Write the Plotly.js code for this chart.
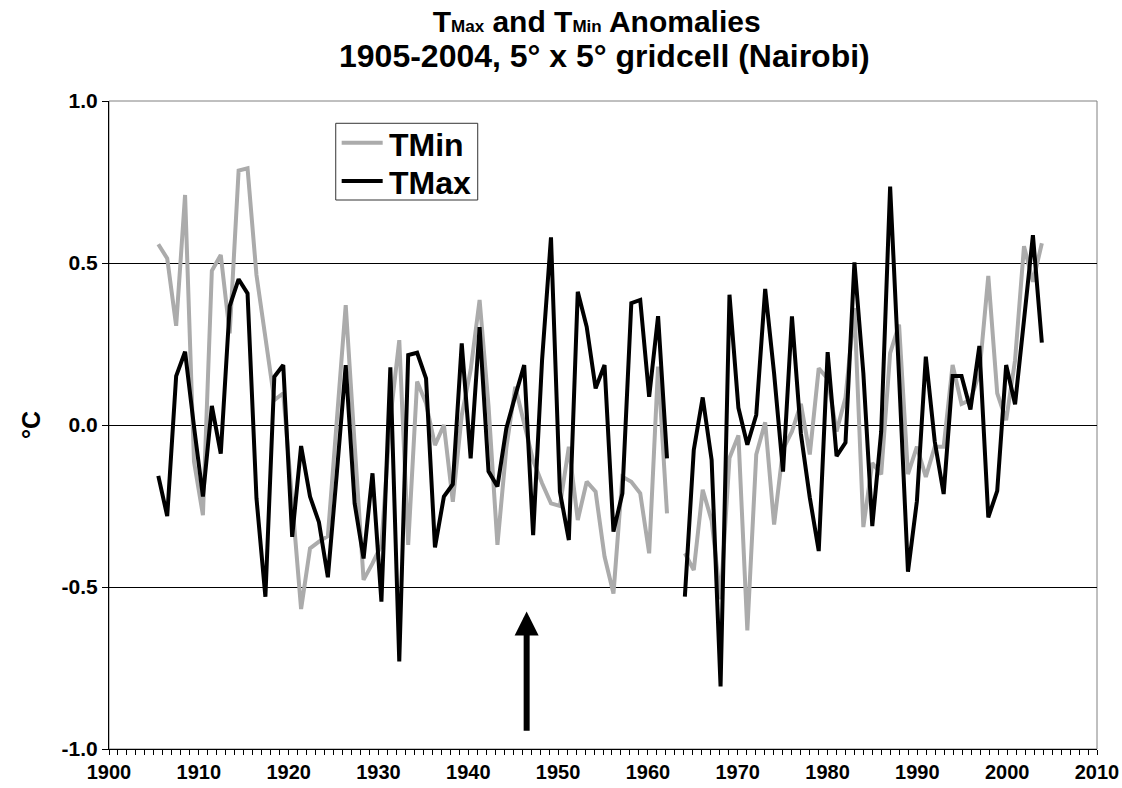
<!DOCTYPE html>
<html>
<head>
<meta charset="utf-8">
<script src="https://cdn.plot.ly/plotly-3.0.1.min.js"></script>
<style>
  html, body { margin: 0; padding: 0; background: #fff; }
  #chart { width: 1122px; height: 788px; }
</style>
</head>
<body>
<div id="chart"></div>
<script>
// Annual anomalies (°C), 5° x 5° gridcell around Nairobi; 1963 is missing.
const years = [];
for (let y = 1905; y <= 2004; y++) years.push(y);

const tmin = [
  0.558, 0.514, 0.306, 0.710, -0.113, -0.278, 0.476, 0.525, 0.283, 0.785,   // 1905-1914
  0.792, 0.463, 0.270, 0.077, 0.098, -0.240, -0.568, -0.381, -0.360, -0.343, // 1915-1924
  0.010, 0.370, -0.060, -0.478, -0.427, -0.370, 0.020, 0.262, -0.370, 0.134, // 1925-1934
  0.067, -0.062, 0.000, -0.237, 0.030, 0.170, 0.386, 0.060, -0.370, -0.070,  // 1935-1944
  0.118, 0.010, -0.110, -0.180, -0.242, -0.250, -0.067, -0.293, -0.175, -0.206, // 1945-1954
  -0.406, -0.520, -0.160, -0.175, -0.211, -0.396, 0.180, -0.273, null, -0.396,  // 1955-1964
  -0.448, -0.200, -0.295, -0.538, -0.102, -0.032, -0.634, -0.091, 0.008, -0.307, // 1965-1974
  -0.075, -0.020, 0.065, -0.091, 0.175, 0.143, -0.020, 0.085, 0.361, -0.315,   // 1975-1984
  -0.117, -0.152, 0.222, 0.310, -0.152, -0.067, -0.160, -0.067, -0.067, 0.185, // 1985-1994
  0.065, 0.077, 0.160, 0.460, 0.098, 0.015, 0.200, 0.552, 0.442, 0.561         // 1995-2004
];

const tmax = [
  -0.157, -0.281, 0.151, 0.226, -0.005, -0.221, 0.059, -0.088, 0.367, 0.450,  // 1905-1914
  0.406, -0.226, -0.530, 0.149, 0.185, -0.345, -0.065, -0.221, -0.300, -0.470, // 1915-1924
  -0.150, 0.185, -0.242, -0.412, -0.149, -0.545, 0.178, -0.730, 0.216, 0.223,  // 1925-1934
  0.144, -0.378, -0.221, -0.183, 0.252, -0.103, 0.302, -0.143, -0.190, -0.010, // 1935-1944
  0.090, 0.185, -0.340, 0.200, 0.579, -0.206, -0.355, 0.411, 0.303, 0.113,     // 1945-1954
  0.185, -0.329, -0.211, 0.376, 0.386, 0.087, 0.336, -0.103, null, -0.530,     // 1955-1964
  -0.077, 0.085, -0.108, -0.807, 0.402, 0.053, -0.061, 0.031, 0.420, 0.159,    // 1965-1974
  -0.144, 0.335, -0.027, -0.224, -0.389, 0.225, -0.096, -0.054, 0.502, 0.160,  // 1975-1984
  -0.312, -0.020, 0.736, 0.150, -0.453, -0.235, 0.211, -0.051, -0.213, 0.151,  // 1985-1994
  0.151, 0.048, 0.244, -0.285, -0.203, 0.185, 0.064, 0.324, 0.586, 0.254       // 1995-2004
];

// Value axis ticks (hyphen minus, one decimal).
const yTickVals = [-1.0, -0.5, 0.0, 0.5, 1.0];
const yTickText = ['-1.0', '-0.5', '0.0', '0.5', '1.0'];

// Year marked by the arrow, and the span of the arrow in °C.
const markYear = 1946.5;
const arrowTip = -0.576;
const arrowTail = -0.948;

const FONT = 'Liberation Sans, Arial, Helvetica, sans-serif';
const GREY = '#ababab';

// The series sit on their own overlaid year axis (x2), whose span is a
// little wider than the labelled 1900-2010 axis, as in the source workbook.
const traces = [
  {
    x: years, y: tmin, name: 'TMin', type: 'scatter', mode: 'lines', xaxis: 'x2',
    line: { color: GREY, width: 4 }, connectgaps: false, showlegend: false
  },
  {
    x: years, y: tmax, name: 'TMax', type: 'scatter', mode: 'lines', xaxis: 'x2',
    line: { color: '#000000', width: 4 }, connectgaps: false, showlegend: false
  }
];

// Legend drawn as a framed key in the upper-left of the plot.
const key = { x0: 0.2295, x1: 0.3732, y0: 0.8472, y1: 0.9656,
              lx0: 0.2355, lx1: 0.2770, tx: 0.2815, rows: [0.9356, 0.8765] };
const keyItems = [
  { label: 'TMin', color: GREY },
  { label: 'TMax', color: '#000000' }
];

const shapes = [
  // plot-area frame
  { type: 'rect', xref: 'paper', yref: 'paper', x0: 0, x1: 1, y0: 0, y1: 1,
    line: { color: '#808080', width: 1 }, layer: 'below' },
  // legend frame
  { type: 'rect', xref: 'paper', yref: 'paper', x0: key.x0, x1: key.x1, y0: key.y0, y1: key.y1,
    line: { color: '#333333', width: 1 }, fillcolor: '#ffffff', layer: 'above' }
];
const annotations = [];
keyItems.forEach((it, i) => {
  shapes.push({ type: 'line', xref: 'paper', yref: 'paper',
    x0: key.lx0, x1: key.lx1, y0: key.rows[i], y1: key.rows[i],
    line: { color: it.color, width: 4 }, layer: 'above' });
  annotations.push({ xref: 'paper', yref: 'paper', x: key.tx, y: key.rows[i] - 0.003,
    xanchor: 'left', yanchor: 'middle', showarrow: false,
    text: '<b>' + it.label + '</b>',
    font: { family: FONT, size: 32, color: '#000' } });
});

// Second title line
annotations.push({
  xref: 'paper', yref: 'paper', x: 0.502, y: 1.0699, xanchor: 'center', yanchor: 'middle',
  showarrow: false, text: '<b>1905-2004, 5° x 5° gridcell (Nairobi)</b>',
  font: { family: FONT, size: 32, color: '#000' }
});

// Arrow marking the year
annotations.push({
  x: markYear, y: arrowTip, xref: 'x', yref: 'y',
  ax: markYear, ay: arrowTail, axref: 'x', ayref: 'y',
  text: '', showarrow: true,
  arrowhead: 2, arrowsize: 0.8, arrowwidth: 6, arrowcolor: '#000',
  standoff: 0, startstandoff: 0
});

const layout = {
  width: 1122, height: 788,
  paper_bgcolor: '#ffffff', plot_bgcolor: '#ffffff',
  margin: { l: 109, r: 25, t: 101, b: 39, pad: 0 },
  font: { family: FONT, color: '#000000' },
  showlegend: false,
  title: {
    text: '<b>T<span style="font-size:17px">Max</span> and T<span style="font-size:17px">Min</span> Anomalies</b>',
    font: { family: FONT, size: 30, color: '#000' },
    x: 0.5318, xref: 'container', xanchor: 'center',
    y: 0.986, yref: 'container', yanchor: 'top'
  },
  xaxis: {
    range: [1900, 2010], tick0: 1900, dtick: 10,
    ticks: 'outside', ticklen: 5, tickwidth: 1, tickcolor: '#000',
    minor: { dtick: 1, tick0: 1900, ticks: 'outside', ticklen: 5, tickwidth: 1, tickcolor: '#000', showgrid: false },
    showline: true, linecolor: '#000', linewidth: 1,
    showgrid: false, zeroline: false,
    tickfont: { family: FONT, size: 20, color: '#000', weight: 'bold' },
    fixedrange: true
  },
  xaxis2: {
    overlaying: 'x', range: [1899.476, 2010.18], visible: false, fixedrange: true
  },
  yaxis: {
    range: [-1, 1], tickmode: 'array', tickvals: yTickVals, ticktext: yTickText,
    ticks: 'outside', ticklen: 6, tickwidth: 1, tickcolor: '#000',
    showline: true, linecolor: '#000', linewidth: 1,
    showgrid: true, gridcolor: '#000', gridwidth: 1,
    zeroline: false,
    tickfont: { family: FONT, size: 21, color: '#000', weight: 'bold' },
    title: { text: '<b>°C</b>', font: { family: FONT, size: 25, color: '#000' }, standoff: 13 },
    fixedrange: true
  },
  shapes: shapes,
  annotations: annotations
};

Plotly.newPlot('chart', traces, layout, { displayModeBar: false, staticPlot: true });
</script>
</body>
</html>
